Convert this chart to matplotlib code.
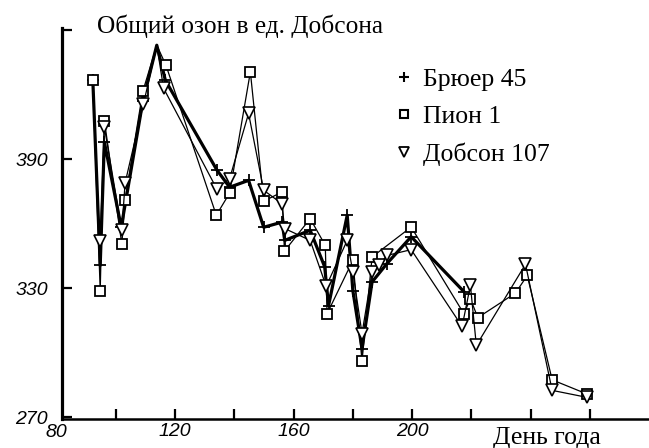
import matplotlib
matplotlib.use("Agg")
from matplotlib import pyplot as plt
from matplotlib.lines import Line2D

# день года и значения общего озона (ед. Добсона)
peak_day = 113.8

brewer_days = [92.2, 94.7, 96.1, 101.8, 109.1, peak_day, 116.7, 134.1, 138.4, 144.8, 149.9,
               156.1, 157.0, 165.6, 170.5, 171.8, 178.1, 180.0, 183.1, 186.5, 191.5, 199.7, 217.5]
brewer_vals = [427, 340.7, 398, 358.4, 417, 443, 426.7, 385, 377, 380.2, 358.4,
               360.8, 352.3, 357, 340, 322, 364, 329, 302, 333, 341.5, 354, 328.5]

pion_days = [92.2, 94.7, 96.1, 102.0, 103.1, 109.1, peak_day, 116.9, 133.9, 138.4, 145.4, 149.9,
             156.1, 156.9, 165.6, 170.7, 171.3, 180.0, 183.1, 186.5, 199.7, 217.5, 219.7,
             222.2, 234.9, 238.9, 247.3, 258.9]
pion_vals = [427, 329, 408, 350.5, 371, 421.6, 443, 433.7, 364, 374.3, 430.6, 370.5,
             374.8, 347.3, 362.4, 350, 318.2, 343, 296.2, 344.6, 358.5, 318.2, 325.2,
             316.4, 327.8, 336, 287.5, 281]

dobson_days = [94.7, 96.1, 102.0, 103.1, 109.3, peak_day, 116.1, 134.0, 138.4, 144.8, 149.9,
               156.0, 157.0, 165.6, 171.0, 178.1, 180.0, 183.1, 186.5, 189.0, 191.5, 199.7,
               216.9, 219.7, 221.7, 238.3, 247.3, 258.9]
dobson_vals = [352, 405, 357, 379, 415.6, 443, 423, 376.4, 381, 411.3, 375.6,
               369.4, 357.8, 352.3, 331, 352.3, 337.6, 309, 337.6, 341, 345.3, 348,
               312.3, 331.4, 303.5, 341.2, 282.6, 279.4]

labels = ["Брюер 45", "Пион 1", "Добсон 107"]


def marks(days):
    # на вершине 113.8 маркеров нет
    return [i for i, d in enumerate(days) if d != peak_day]


fig = plt.figure(figsize=(6.49, 4.48), dpi=100)
ax = fig.add_axes([62 / 649, 1 - 419 / 448, (649 - 62) / 649, (419 - 28) / 448])

ax.plot(brewer_days, brewer_vals, color="black", lw=2.3, marker="+", ms=8, mew=1.3,
        markevery=marks(brewer_days), zorder=3)
ax.plot(pion_days, pion_vals, color="black", lw=0.9, marker="s", ms=7.5, mew=1.3,
        mfc="white", markevery=marks(pion_days), zorder=4)
ax.plot(dobson_days, dobson_vals, color="black", lw=0.9, marker="v", ms=8, mew=1.2,
        mfc="white", markevery=marks(dobson_days), zorder=4)

ax.set_xlim(81.8, 280)
ax.set_ylim(269.3, 451)

for s in ["top", "right"]:
    ax.spines[s].set_visible(False)
ax.spines["left"].set_linewidth(2.3)
ax.spines["bottom"].set_linewidth(1.8)

tick_font = {"family": "Liberation Sans", "style": "italic", "size": 14}
ax.set_xticks(range(100, 261, 20))
ax.set_xticklabels(["", "120", "", "160", "", "200", "", "", ""], fontdict=tick_font)
ax.set_yticks([270, 330, 390, 450])
ax.set_yticklabels(["270", "330", "390", ""], fontdict=tick_font)
ax.tick_params(axis="both", direction="in", length=7, width=1.6)
ax.tick_params(axis="y", pad=10)
ax.tick_params(axis="x", pad=3)
ax.text(80, -0.012, "80", transform=ax.get_xaxis_transform(), ha="center", va="top", **tick_font)

serif = "Liberation Serif"
fig.text(97 / 649, 1 - 33 / 448, "Общий озон в ед. Добсона", family=serif, size=18.3, va="baseline")
fig.text(493 / 649, 1 - 444 / 448, "День года", family=serif, size=18.5, va="baseline")

handles = [Line2D([], [], color="black", ls="none", marker="+", ms=7, mew=1.5),
           Line2D([], [], color="black", ls="none", marker="s", ms=6, mew=1.5, mfc="white"),
           Line2D([], [], color="black", ls="none", marker="v", ms=7, mew=1.3, mfc="white")]
ax.legend(handles, labels, loc="upper left", bbox_to_anchor=(381 / 649, 1 - 55 / 448),
          bbox_transform=fig.transFigure, frameon=False, handlelength=0.8, handletextpad=0.34,
          labelspacing=0.56, borderpad=0, prop={"family": serif, "size": 18.5})

fig.savefig("out.png", dpi=100)
